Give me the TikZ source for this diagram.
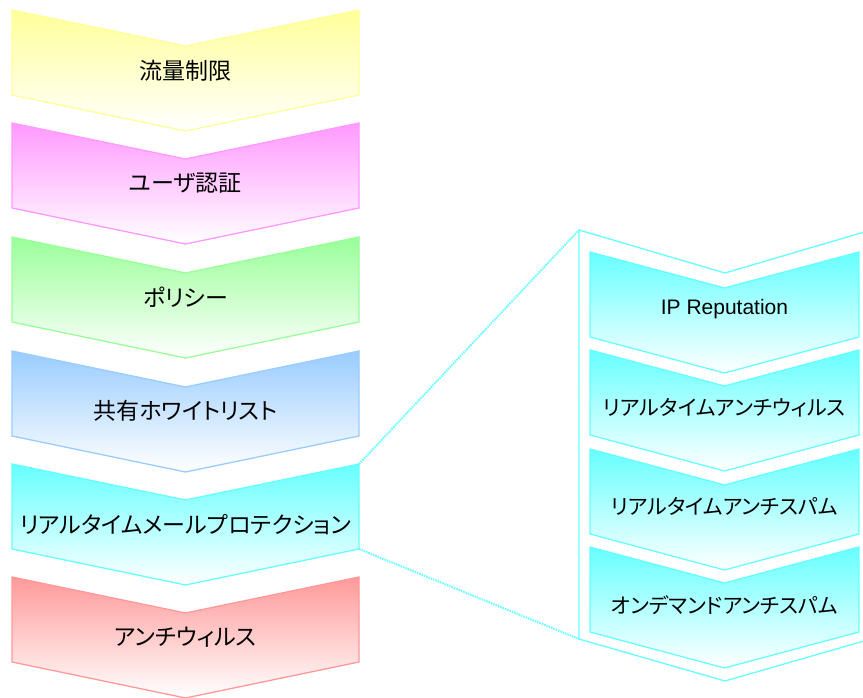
\documentclass[tikz,border=0pt]{standalone}
\usepackage{fontspec}
\setmainfont{Liberation Sans}
\newfontfamily\jp[RawFeature=+palt]{Noto Sans CJK JP}
\definecolor{cyel}{HTML}{FFFF99}
\definecolor{cmag}{HTML}{FF99FF}
\definecolor{cgrn}{HTML}{99FF99}
\definecolor{cblu}{HTML}{99CCFF}
\definecolor{ccya}{HTML}{66FFFF}
\definecolor{cred}{HTML}{FF9999}
\tikzset{
  lbl/.style={font=\jp\fontsize{23}{25}\selectfont, text=black, inner sep=0pt},
  ilbl/.style={font=\jp\fontsize{21}{23}\selectfont, text=black, inner sep=0pt},
  elbl/.style={font=\fontsize{21}{23}\selectfont, text=black, inner sep=0pt},
  chevline/.style={line width=1.3pt},
  dotline/.style={draw=ccya, line width=2pt, dash pattern=on 1.5pt off 1pt},
}
% chevron: #1 x-left, #2 x-right, #3 y-top, #4 colour
\newcommand{\mychev}[4]{%
  \pgfmathsetmacro{\cx}{(#1+#2)/2}%
  \shade[top color=#4, bottom color=white, draw=#4, chevline]
    (#1,#3) -- (\cx,#3+36) -- (#2,#3) -- (#2,#3+85) -- (\cx,#3+121) -- (#1,#3+85) -- cycle;
}
\begin{document}
\begin{tikzpicture}[x=1pt,y=-1pt]
\clip (0,0) rectangle (863,698);
\fill[white] (0,0) rectangle (863,698);
% left column
\mychev{12}{359}{10}{cyel}
\node[lbl] (a1) at (185.5,70.5) {流量制限};
\mychev{12}{359}{123}{cmag}
\node[lbl] (a2) at (185.5,183.5) {ユーザ認証};
\mychev{12}{359}{237}{cgrn}
\node[lbl] (a3) at (185.5,297.5) {ポリシー};
\mychev{12}{359}{351}{cblu}
\node[lbl] (a4) at (185.5,411) {共有ホワイトリスト};
\mychev{12}{359}{464}{ccya}
\node[lbl] (a5) at (185.5,524.5) {リアルタイムメールプロテクション};
\mychev{12}{359}{577}{cred}
\node[lbl] (a6) at (185.5,637.5) {アンチウィルス};
% big outline
\coordinate (btl) at (579,230);
\coordinate (bbl) at (579,639);
\draw[draw=ccya, chevline] (btl) -- (725,273) -- (871,230) -- (871,639) -- (725,681) -- (bbl) -- cycle;
% connectors
\coordinate (ltr) at (359,464);
\coordinate (lbr) at (359,549);
\draw[dotline] (ltr) -- (btl);
\draw[dotline] (lbr) -- (bbl);
% inner column
\mychev{590}{859}{252}{ccya}
\node[elbl] (b1) at (724.5,309) {IP Reputation};
\mychev{590}{859}{350}{ccya}
\node[ilbl] (b2) at (724.5,408) {リアルタイムアンチウィルス};
\mychev{590}{859}{449}{ccya}
\node[ilbl] (b3) at (724.5,506) {リアルタイムアンチスパム};
\mychev{590}{859}{547}{ccya}
\node[ilbl] (b4) at (724.5,605) {オンデマンドアンチスパム};
\end{tikzpicture}
\end{document}
